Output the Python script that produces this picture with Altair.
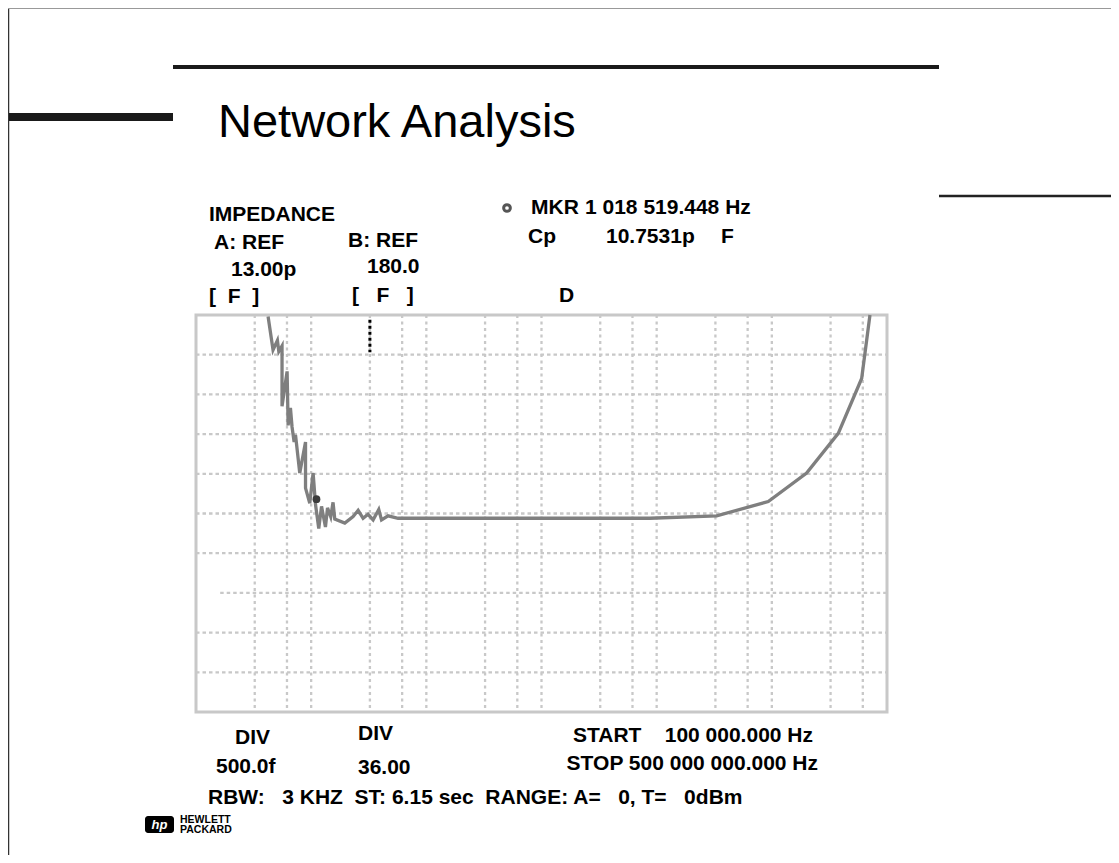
import altair as alt
import pandas as pd

# ---------------- data ----------------
# Sweep position in horizontal screen divisions (0..6), Cp in pF (ref 13.00p, 500.0f/div)
trace_pos = [0.626, 0.669, 0.707, 0.719, 0.747, 0.747, 0.791, 0.800, 0.820, 0.834,
             0.852, 0.864, 0.901, 0.951, 0.951, 0.988, 1.017, 1.038, 1.066, 1.090,
             1.124, 1.142, 1.170, 1.190, 1.205, 1.292, 1.364, 1.408, 1.451, 1.494,
             1.538, 1.587, 1.611, 1.668, 1.755, 1.900, 2.600, 3.300, 3.941, 4.521,
             4.969, 5.302, 5.577, 5.780, 5.852]
trace_cp = [12.98, 12.56, 12.68, 12.54, 12.61, 11.85, 12.29, 11.61, 11.83, 11.59,
            11.40, 11.49, 11.01, 11.40, 10.82, 10.63, 11.01, 10.61, 10.31, 10.59,
            10.33, 10.57, 10.46, 10.64, 10.43, 10.38, 10.46, 10.54, 10.44, 10.49,
            10.42, 10.55, 10.42, 10.47, 10.44, 10.44, 10.44, 10.44, 10.44, 10.47,
            10.65, 11.01, 11.51, 12.20, 13.00]

marker_pos = [1.046]
marker_cp = [10.68]
marker_line_pos = [1.51]
marker_line_cp = [12.94]
marker_line_cp2 = [12.53]

v_grid = [0.51, 0.79, 1.0, 1.51, 1.79, 2.0, 2.51, 2.79, 3.0,
          3.51, 3.79, 4.0, 4.51, 4.79, 5.0, 5.51, 5.79]
h_grid = [8.5, 9.0, 9.5, 10.0, 10.5, 11.0, 11.5, 12.0, 12.5]
h_grid_start = [0, 0, 0.21, 0, 0, 0, 0, 0, 0]

NB = "\u00a0"  # non-collapsing space, as on the instrument screen
title_text = "Network Analysis"
header_left = ["IMPEDANCE", "A: REF", "B: REF", "13.00p", "180.0",
               "[" + NB * 2 + "F" + NB * 2 + "]", "[" + NB * 3 + "F" + NB * 3 + "]"]
header_right = ["MKR", "1 018 519.448 Hz", "Cp", "10.7531p", "F", "D"]
footer = ["DIV", "DIV", "500.0f", "36.00",
          "START" + NB * 4 + "100 000.000 Hz",
          "STOP 500 000 000.000 Hz"]
footer_line = ("RBW:" + NB * 3 + "3 KHZ" + NB * 2 + "ST: 6.15 sec" + NB * 2 +
               "RANGE: A=" + NB * 3 + "0, T=" + NB * 3 + "0dBm")
logo_words = ["HEWLETT", "PACKARD", "hp"]

# ---------------- layout helpers ----------------
W, H = 691, 397
OX, OY = 196, 315          # page position of the plot area
FONT = "Liberation Sans"
FS = 21
XS = alt.Scale(domain=[0, 6], nice=False, zero=False)
YS = alt.Scale(domain=[8, 13], nice=False, zero=False)
one = pd.DataFrame({"d": [0]})


def label(text, x, y, size=FS, weight="bold", align="left", baseline="middle",
          color="black", style="normal"):
    return alt.Chart(pd.DataFrame({"t": [text]})).mark_text(
        font=FONT, fontSize=size, fontWeight=weight, align=align,
        baseline=baseline, color=color, fontStyle=style
    ).encode(x=alt.value(x - OX), y=alt.value(y - OY), text="t:N")


def hbar(x1, x2, y, w, color):
    return alt.Chart(one).mark_rule(color=color, strokeWidth=w).encode(
        x=alt.value(x1 - OX), x2=alt.value(x2 - OX), y=alt.value(y - OY))


def vbar(x, y1, y2, w, color):
    return alt.Chart(one).mark_rule(color=color, strokeWidth=w).encode(
        x=alt.value(x - OX), y=alt.value(y1 - OY), y2=alt.value(y2 - OY))


# ---------------- plot layers ----------------
vgrid = alt.Chart(pd.DataFrame({"x": v_grid})).mark_rule(
    color="#c8c8c8", strokeWidth=2.3, strokeDash=[3, 3.5]
).encode(x=alt.X("x:Q", scale=XS, axis=None))

hgrid = alt.Chart(pd.DataFrame({"y": h_grid, "x0": h_grid_start, "x1": [6] * len(h_grid)})).mark_rule(
    color="#c8c8c8", strokeWidth=2.3, strokeDash=[3.5, 3]
).encode(
    y=alt.Y("y:Q", scale=YS, axis=None),
    x=alt.X("x0:Q", scale=XS, axis=None),
    x2="x1:Q",
)

trace = alt.Chart(pd.DataFrame({"x": trace_pos, "y": trace_cp, "i": list(range(len(trace_pos)))})).mark_line(
    color="#7f7f7f", strokeWidth=3.3
).encode(
    x=alt.X("x:Q", scale=XS, axis=None),
    y=alt.Y("y:Q", scale=YS, axis=None),
    order="i:Q",
)

marker = alt.Chart(pd.DataFrame({"x": marker_pos, "y": marker_cp})).mark_point(
    shape="circle", filled=True, size=60, color="#3c3c3c", opacity=1
).encode(x=alt.X("x:Q", scale=XS, axis=None), y=alt.Y("y:Q", scale=YS, axis=None))

marker_line = alt.Chart(pd.DataFrame({"x": marker_line_pos, "y": marker_line_cp, "y2": marker_line_cp2})).mark_rule(
    color="black", strokeWidth=3, strokeDash=[3, 3]
).encode(x=alt.X("x:Q", scale=XS, axis=None), y=alt.Y("y:Q", scale=YS, axis=None), y2="y2:Q")

layers = [vgrid, hgrid, trace, marker, marker_line]

# ---------------- page decoration ----------------
layers += [
    vbar(8.5, 8, 855, 1.5, "#333333"),
    hbar(8, 1111, 8.5, 1, "#999999"),
    hbar(173, 939, 67, 4, "#1a1a1a"),
    hbar(9, 173, 117, 8, "#1a1a1a"),
    hbar(939, 1111, 196, 2.5, "#222222"),
    label(title_text, 218, 137, size=47, weight="normal", baseline="alphabetic"),
]

# header
layers += [
    label(header_left[0], 209, 214.5),
    label(header_left[1], 214, 243),
    label(header_left[2], 348, 241),
    label(header_left[3], 231, 270),
    label(header_left[4], 367, 267),
    label(header_left[5], 209, 297),
    label(header_left[6], 352, 296),
    alt.Chart(one).mark_point(shape="circle", filled=False, size=45, color="#555555",
                              strokeWidth=3, opacity=1).encode(
        x=alt.value(507 - OX), y=alt.value(208 - OY)),
    label(header_right[0], 531, 208),
    label(header_right[1], 585, 208),
    label(header_right[2], 528, 237),
    label(header_right[3], 606, 237),
    label(header_right[4], 721, 237),
    label(header_right[5], 559, 296),
]

# footer
layers += [
    label(footer[0], 235, 738),
    label(footer[1], 358, 734),
    label(footer[2], 216, 767),
    label(footer[3], 358, 768),
    label(footer[4], 813, 736, align="right"),
    label(footer[5], 818, 763.5, align="right"),
    label(footer_line, 208, 798),
]

# HP logo
layers += [
    alt.Chart(one).mark_rect(color="black", cornerRadius=3).encode(
        x=alt.value(145 - OX), x2=alt.value(174 - OX),
        y=alt.value(816 - OY), y2=alt.value(833 - OY)),
    label(logo_words[2], 159.5, 825, size=13, weight="bold", align="center",
          color="white", style="italic"),
    label(logo_words[0], 180, 820, size=10.5),
    label(logo_words[1], 180, 830, size=10.5),
]

chart = alt.layer(*layers).properties(
    width=W, height=H,
    padding={"left": 188, "top": 307, "right": 224, "bottom": 143},
    autosize=alt.AutoSizeParams(type="none"),
).configure_view(stroke="#c8c8c8", strokeWidth=3)

chart.save("out.html", embed_options={"renderer": "svg", "actions": False})
